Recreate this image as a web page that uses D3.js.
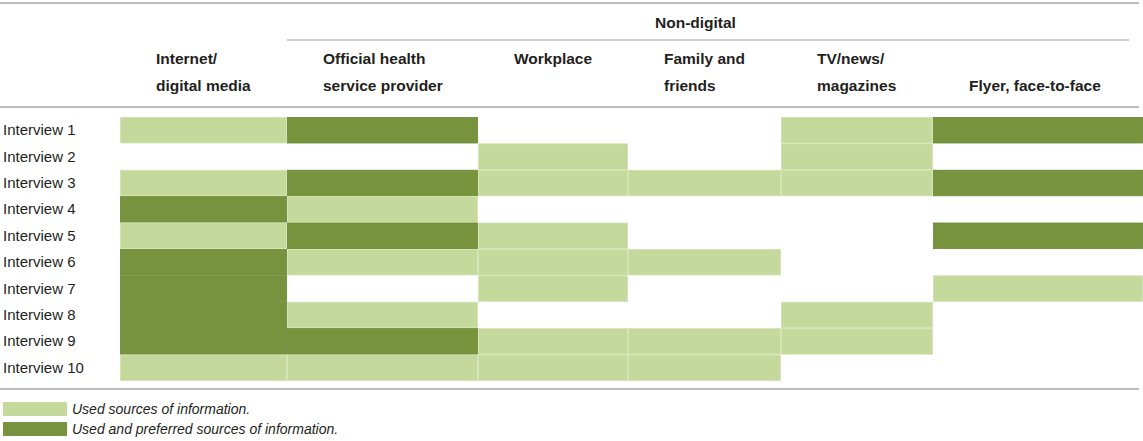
<!DOCTYPE html>
<html>
<head>
<meta charset="utf-8">
<script src="https://cdn.jsdelivr.net/npm/d3@7"></script>
<style>
  body { margin: 0; background: #fff; }
  svg { display: block; font-family: "Liberation Sans", Arial, Helvetica, sans-serif; }
</style>
</head>
<body>
<svg id="chart"></svg>
<script>
// data: 0 = not used, 1 = used, 2 = used and preferred
const interviews = ["Interview 1", "Interview 2", "Interview 3", "Interview 4", "Interview 5",
  "Interview 6", "Interview 7", "Interview 8", "Interview 9", "Interview 10"];
const sources = ["internet", "official", "workplace", "family", "tv", "flyer"];
const sourceLabels = [
  ["Internet/", "digital media"],
  ["Official health", "service provider"],
  ["Workplace"],
  ["Family and", "friends"],
  ["TV/news/", "magazines"],
  ["", "Flyer, face-to-face"]
];
const groupLabel = "Non-digital";
const usage = [
  [1, 2, 0, 0, 1, 2],
  [0, 0, 1, 0, 1, 0],
  [1, 2, 1, 1, 1, 2],
  [2, 1, 0, 0, 0, 0],
  [1, 2, 1, 0, 0, 2],
  [2, 1, 1, 1, 0, 0],
  [2, 0, 1, 0, 0, 1],
  [2, 1, 0, 0, 1, 0],
  [2, 2, 1, 1, 1, 0],
  [1, 1, 1, 1, 0, 0]
];
const legendLabels = ["Used sources of information.", "Used and preferred sources of information."];

const width = 1143, height = 441;
const svg = d3.select("#chart").attr("width", width).attr("height", height);

// column edges are layout (unequal widths as in the print)
const colEdges = [120, 287, 478, 628, 781, 933, 1143];
const xStart = d3.scaleOrdinal(sources, colEdges.slice(0, -1));
const xEnd = d3.scaleOrdinal(sources, colEdges.slice(1));
const y = d3.scaleBand(interviews, [117, 381]);

const fill = d3.scaleOrdinal([1, 2], ["#c5d99c", "#77933e"]);
const edge = d3.scaleOrdinal([1, 2], ["#d3e3b3", "#6a8a32"]);
const textColor = "#231f20";
const ruleColor = "#bcbcbc";

// rules
function rule(x1, x2, yy, w) {
  svg.append("line").attr("x1", x1).attr("x2", x2).attr("y1", yy).attr("y2", yy)
    .attr("stroke", ruleColor).attr("stroke-width", w);
}
rule(0, 1139, 3, 2);
rule(xStart("official"), 1129, 40, 1.5);
rule(0, 1139, 107, 2);
rule(0, 1139, 389, 2);

// group header
svg.append("text").attr("x", 655).attr("y", 28)
  .attr("font-size", 15.5).attr("font-weight", "bold").attr("fill", textColor)
  .text(groupLabel);

// column headers
const head = svg.append("g").selectAll("text").data(sources).join("text")
  .attr("x", d => xStart(d) + 36)
  .attr("font-size", 15.5).attr("font-weight", "bold").attr("fill", textColor);
head.selectAll("tspan").data((d, i) => sourceLabels[i]).join("tspan")
  .attr("x", function () { return d3.select(this.parentNode).attr("x"); })
  .attr("y", (d, i) => i === 0 ? 64 : 91)
  .text(d => d);

// cells
const cells = [];
usage.forEach((row, r) => row.forEach((v, c) => {
  if (v > 0) cells.push({ interview: interviews[r], source: sources[c], v: v });
}));
svg.append("g").selectAll("rect").data(cells).join("rect")
  .attr("x", d => xStart(d.source) + 0.4)
  .attr("y", d => y(d.interview) + 0.4)
  .attr("width", d => xEnd(d.source) - xStart(d.source) - 0.8)
  .attr("height", y.bandwidth() - 0.8)
  .attr("fill", d => fill(d.v))
  .attr("stroke", d => edge(d.v))
  .attr("stroke-width", 0.8);

// row labels
svg.append("g").selectAll("text").data(interviews).join("text")
  .attr("x", 3)
  .attr("y", d => y(d) + y.bandwidth() / 2 + 5)
  .attr("font-size", 15).attr("fill", textColor)
  .text(d => d);

// legend
const legend = svg.append("g").selectAll("g").data([1, 2]).join("g")
  .attr("transform", (d, i) => "translate(3," + (402 + i * 20) + ")");
legend.append("rect").attr("width", 64).attr("height", 14).attr("fill", d => fill(d));
legend.append("text").attr("x", 69).attr("y", 12)
  .attr("font-size", 14).attr("font-style", "italic").attr("fill", textColor)
  .text((d, i) => legendLabels[i]);
</script>
</body>
</html>
